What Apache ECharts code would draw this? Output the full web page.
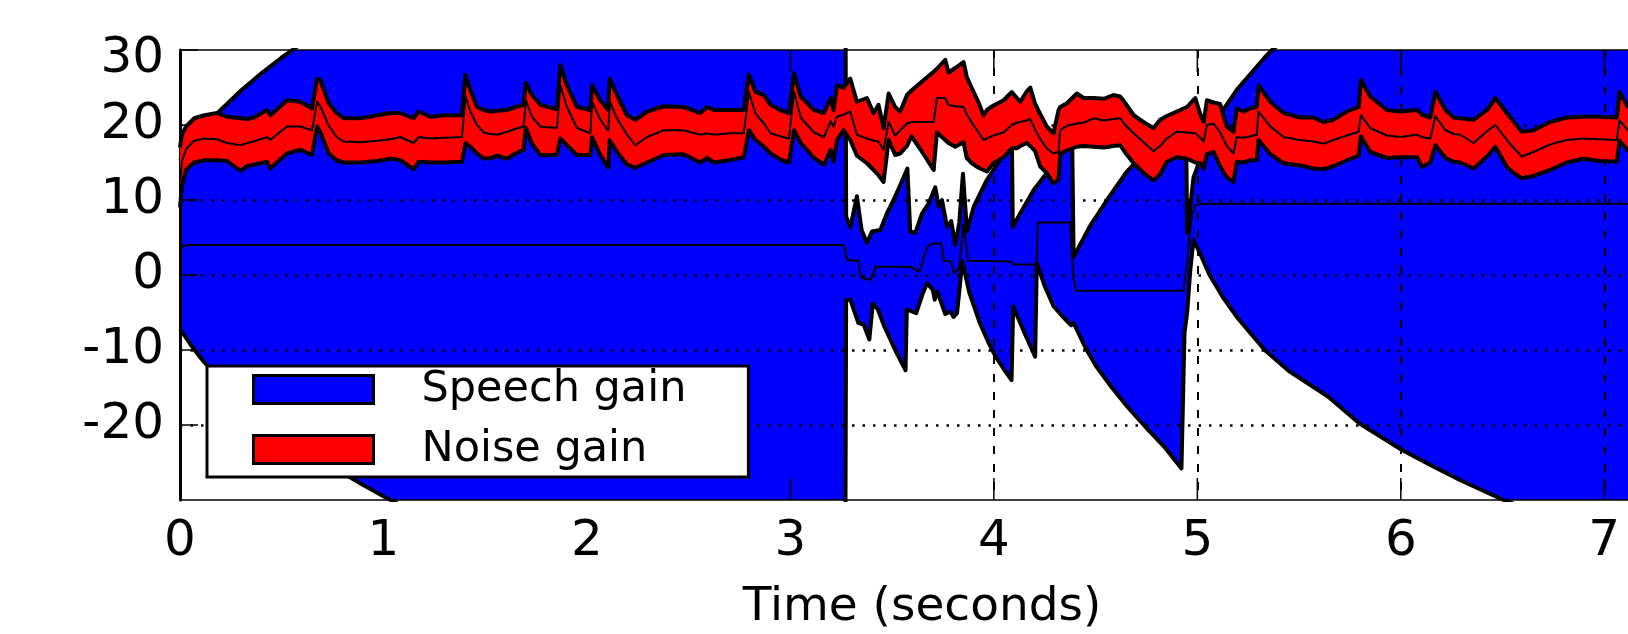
<!DOCTYPE html>
<html>
<head>
<meta charset="utf-8">
<script src="https://cdn.jsdelivr.net/npm/echarts@6/dist/echarts.min.js"></script>
<style>
  html, body { margin: 0; padding: 0; background: #fff; }
  #chart { width: 1628px; height: 634px; }
</style>
</head>
<body>
<div id="chart"></div>
<script>
// speech gain band: [time, dB]
const speechUpper = [
  [0,15.2],[0.05,17.2],[0.1,19.0],[0.15,20.6],[0.2,22.0],[0.3,24.6],[0.4,26.9],[0.5,29.0],[0.6,30.9],[0.7,32.7],
  [0.8,34.4],[0.9,36.0],[1.0,37.5],[1.2,40.3],[1.5,44.0],[2.0,49.0],[2.5,54.0],[3.0,58.0],[3.268,61.0],
  [3.274,7.8],[3.295,6.4],[3.327,10.5],[3.350,6.0],[3.376,4.3],[3.401,5.8],[3.442,6.0],[3.474,8.2],[3.507,10.0],
  [3.540,12.0],[3.575,14.2],[3.589,5.8],[3.614,5.6],[3.647,8.2],[3.680,9.6],[3.712,11.7],[3.729,9.1],[3.745,10.0],
  [3.770,6.4],[3.790,7.2],[3.811,4.0],[3.830,7.0],[3.848,13.5],[3.868,5.8],[3.901,9.1],[3.966,12.7],[4.032,15.4],
  [4.070,16.8],[4.089,17.0],[4.093,6.4],[4.129,8.2],[4.195,11.3],[4.260,13.6],[4.326,15.9],[4.385,17.8],[4.392,2.4],
  [4.474,6.6],[4.556,10.0],[4.654,13.8],[4.750,16.6],[4.850,19.0],[4.944,21.0],[4.950,5.6],[4.965,9.0],[4.981,13.0],
  [4.995,14.0],[5.030,17.0],[5.080,20.0],[5.124,21.9],[5.200,24.9],[5.331,29.0],[5.374,30.2],[5.500,32.5],[5.642,35.2],
  [5.797,38.8],[6.004,42.3],[6.288,46.3],[6.496,48.9],[7.000,54.0],[7.600,59.0]
];
const speechLower = [
  [0,-7.2],[0.05,-9.2],[0.1,-11.0],[0.15,-12.6],[0.2,-14.0],[0.3,-16.6],[0.4,-18.9],[0.5,-21.0],[0.6,-22.9],[0.7,-24.7],
  [0.8,-26.4],[0.9,-28.0],[1.0,-29.5],[1.2,-32.3],[1.5,-36.0],[2.0,-41.0],[2.5,-46.0],[3.0,-50.0],[3.268,-53.0],
  [3.274,-3.3],[3.295,-3.3],[3.334,-6.4],[3.360,-6.6],[3.388,-8.6],[3.405,-3.8],[3.430,-4.6],[3.462,-6.9],[3.515,-10.0],
  [3.566,-12.7],[3.572,-4.6],[3.618,-5.1],[3.650,-2.5],[3.672,-1.1],[3.700,-2.0],[3.709,-3.3],[3.722,-2.2],[3.761,-5.2],
  [3.787,-4.9],[3.802,-5.6],[3.819,-5.1],[3.845,1.8],[3.879,-2.3],[3.931,-6.4],[3.970,-8.8],[4.009,-10.9],[4.050,-12.6],
  [4.087,-14.0],[4.095,-4.2],[4.150,-7.7],[4.203,-10.9],[4.211,1.6],[4.250,-1.5],[4.294,-4.2],[4.340,-5.6],[4.380,-6.7],
  [4.392,-6.4],[4.450,-9.7],[4.501,-12.1],[4.580,-15.0],[4.657,-17.6],[4.750,-20.4],[4.838,-22.9],[4.922,-25.8],
  [4.937,-7.7],[4.950,-5.0],[4.965,0.5],[4.981,4.7],[5.021,2.4],[5.060,0.0],[5.124,-2.9],[5.200,-5.8],[5.331,-10.0],
  [5.450,-12.8],[5.642,-16.2],[5.797,-19.8],[6.004,-23.3],[6.150,-25.4],[6.288,-27.3],[6.496,-29.9],[7.000,-35.0],[7.600,-40.0]
];
const speechMid = [
  [0,3.3],[0.02,3.9],[0.05,4.0],[3.262,4.0],[3.280,2.0],[3.336,1.9],[3.345,-0.3],[3.352,-0.5],[3.393,-0.7],[3.420,1.1],
  [3.589,1.1],[3.610,0.8],[3.635,0.4],[3.660,2.8],[3.675,3.8],[3.696,4.2],[3.742,4.2],[3.754,1.9],[3.790,1.8],[3.805,0.2],
  [3.830,1.0],[3.850,6.7],[3.874,1.9],[4.080,1.8],[4.097,1.4],[4.210,1.4],[4.216,7.0],[4.375,7.0],[4.390,-0.3],[4.405,-2.1],
  [4.932,-2.1],[4.949,1.7],[4.973,8.0],[4.990,9.3],[5.015,9.5],[7.600,9.5]
];

// noise gain band, shared time axis
const noiseTime = [
  0.000,0.010,0.030,0.070,0.120,0.182,0.231,0.297,0.330,0.362,
  0.428,0.444,0.526,0.592,0.649,0.674,0.690,0.731,0.770,0.805,
  0.887,0.969,1.034,1.083,1.148,1.173,1.230,1.300,1.386,1.403,
  1.427,1.460,1.493,1.526,1.560,1.607,1.650,1.689,1.700,1.730,
  1.771,1.853,1.869,1.902,1.951,2.017,2.025,2.066,2.105,2.112,
  2.148,2.197,2.238,2.296,2.378,2.476,2.558,2.591,2.624,2.700,
  2.771,2.796,2.829,2.870,2.903,2.950,2.993,3.018,3.051,3.116,
  3.165,3.198,3.212,3.229,3.262,3.294,3.327,3.376,3.409,3.433,
  3.458,3.483,3.515,3.540,3.573,3.595,3.638,3.704,3.712,3.720,
  3.761,3.777,3.810,3.851,3.867,3.892,3.925,3.949,3.966,3.998,
  4.048,4.088,4.113,4.130,4.162,4.179,4.203,4.227,4.260,4.293,
  4.318,4.326,4.359,4.408,4.441,4.490,4.540,4.588,4.621,4.646,
  4.687,4.740,4.785,4.817,4.850,4.899,4.949,4.990,5.015,5.031,
  5.047,5.080,5.112,5.145,5.178,5.194,5.227,5.260,5.292,5.301,
  5.359,5.424,5.506,5.571,5.620,5.669,5.735,5.793,5.804,5.850,
  5.932,5.998,6.080,6.104,6.145,6.170,6.220,6.260,6.293,6.358,
  6.424,6.465,6.521,6.560,6.595,6.652,6.734,6.816,6.898,6.980,
  7.062,7.075,7.117,7.200,7.600
];
const noiseUpper = [
  17.0,18.8,19.8,20.9,21.3,21.6,21.1,20.9,20.8,21.0,
  22.0,21.3,23.3,23.1,22.2,26.2,26.0,22.9,21.6,20.9,
  20.9,21.3,21.6,21.6,20.9,21.8,21.1,21.3,21.3,26.7,
  24.7,22.4,22.0,21.8,21.9,22.0,22.4,22.7,25.6,24.0,
  22.7,22.1,28.0,25.3,22.4,22.0,25.3,23.3,22.0,26.2,
  24.0,21.3,20.7,21.8,22.5,22.4,21.6,22.4,22.0,22.0,
  22.0,26.7,24.4,24.0,22.7,22.0,21.6,26.9,23.8,22.0,
  21.6,23.6,22.0,25.3,25.0,26.2,23.1,23.6,21.6,22.7,
  19.6,24.2,22.4,21.8,24.0,24.6,25.6,27.1,27.3,27.5,
  28.7,27.0,27.6,28.4,26.4,24.9,23.0,21.3,22.0,22.6,
  23.3,24.4,23.6,23.1,24.5,25.0,22.8,21.5,19.8,18.9,
  22.0,22.4,22.9,24.2,23.6,23.6,23.5,24.0,23.8,22.9,
  21.3,20.3,19.6,20.7,21.2,21.8,22.4,23.6,21.4,20.4,
  23.3,23.0,22.8,19.8,19.1,22.2,21.8,22.2,22.4,25.3,
  23.1,21.6,21.0,21.0,20.4,20.7,21.8,22.4,26.0,23.8,
  22.0,21.8,22.0,21.4,21.0,24.4,22.0,21.0,20.9,20.7,
  22.0,23.6,21.6,20.3,19.1,19.3,20.4,21.0,21.1,21.1,
  21.0,24.4,22.4,21.2,21.0
];
const noiseMid = [
  12.5,15.2,16.8,17.9,18.2,18.1,17.6,17.3,17.6,17.8,
  18.4,18.0,19.8,19.8,19.3,23.1,22.5,19.9,18.4,17.8,
  17.7,17.9,18.1,18.4,17.6,18.4,18.2,18.3,18.4,23.8,
  21.8,20.0,19.0,18.8,18.7,19.1,19.5,19.8,23.3,21.1,
  19.8,19.6,25.3,22.4,19.6,18.9,23.1,20.7,19.2,23.1,
  20.9,18.7,17.3,18.4,19.3,19.3,18.7,18.9,18.7,18.9,
  18.9,24.4,21.5,20.2,18.9,18.5,18.2,24.4,21.0,19.0,
  18.4,20.5,19.8,21.1,21.4,21.8,18.7,18.2,17.9,17.8,
  16.7,20.4,18.6,19.3,20.2,20.4,20.4,20.4,20.4,23.6,
  23.6,22.7,22.5,22.4,21.4,20.3,19.0,18.0,18.2,18.6,
  19.0,20.0,20.3,20.4,20.6,20.8,19.4,18.2,16.9,16.2,
  16.4,19.3,19.9,20.2,20.3,20.9,20.6,20.8,20.9,20.0,
  18.9,17.6,16.5,17.2,18.2,19.1,19.0,18.9,18.3,17.8,
  20.0,20.2,19.0,17.2,16.2,18.4,18.3,18.5,18.7,21.8,
  19.8,18.4,18.0,17.8,17.5,18.0,18.6,19.1,21.3,19.6,
  18.6,18.4,18.7,18.4,18.2,21.2,19.3,18.8,18.7,17.6,
  19.2,20.0,18.0,16.8,15.8,16.4,17.4,18.0,18.2,18.1,
  18.0,20.6,19.3,18.2,18.0
];
const noiseLower = [
  9.0,12.0,14.0,15.0,15.3,15.3,15.2,13.9,14.5,14.7,
  15.1,14.2,16.2,16.7,16.0,19.8,19.0,16.2,15.3,15.0,
  15.0,15.2,15.5,15.3,14.1,15.1,15.0,15.0,15.1,17.6,
  17.1,16.2,15.5,15.6,15.9,15.5,16.2,16.7,19.6,17.5,
  16.0,16.0,18.2,17.3,16.0,16.0,18.4,16.0,14.3,18.0,
  16.4,14.7,14.3,15.0,16.0,16.1,15.0,15.6,15.0,15.3,
  15.7,19.3,18.0,17.1,16.2,15.4,15.0,19.3,17.6,15.6,
  14.7,16.7,15.1,18.0,19.3,18.0,15.9,14.9,14.0,13.3,
  12.4,18.0,16.0,16.2,17.2,18.5,16.8,14.0,13.8,19.0,
  18.0,17.6,17.1,17.7,15.6,14.9,14.3,14.0,13.8,14.9,
  15.7,16.9,16.9,17.2,17.6,17.2,16.5,14.5,13.6,12.2,
  12.7,16.2,16.6,17.1,17.2,17.1,17.0,17.2,17.3,16.3,
  14.9,13.5,12.6,13.4,15.1,15.7,15.5,15.0,14.9,14.2,
  16.1,16.4,14.5,13.0,12.4,15.1,15.0,15.3,15.3,18.0,
  16.1,14.9,14.6,14.2,14.1,14.5,15.3,15.9,18.5,16.4,
  15.6,15.7,15.7,14.4,15.0,17.3,15.6,15.1,15.0,14.2,
  15.8,17.1,14.4,13.5,12.9,13.2,14.0,15.0,15.5,15.2,
  15.1,17.9,16.6,15.3,15.0
];

const yTicks = [-30, 30, 10]       // min, max, step
const xTicks = [0, 7.5, 1]
// only these x tics show through the fill
const visibleXTicks = [3, 4, 5, 6, 7]
// vertical grid only shows from t = 4 on
const clear = 'rgba(0,0,0,0)'
const vGridColors = [clear, clear, clear, clear, '#000', '#000', '#000', '#000', clear]

const FONT = 'DejaVu Sans'
const TICK_LEN = 22

function pairs(times, values) {
  return times.map((t, i) => [t, values[i]])
}

function band(name, upper, lower, color, z) {
  return {
    name: name,
    type: 'custom',
    z: z,
    silent: true,
    itemStyle: { color: color },
    data: [[0, 0]],
    renderItem(params, api) {
      const top = upper.map(p => api.coord(p))
      const bottom = lower.slice().reverse().map(p => api.coord(p))
      const cs = params.coordSys
      return {
        type: 'polygon',
        shape: { points: top.concat(bottom) },
        style: { fill: color },
        clipPath: { type: 'rect', shape: { x: cs.x, y: cs.y, width: cs.width, height: cs.height } }
      }
    }
  }
}

function edge(data, width, z) {
  return {
    type: 'line',
    data: data,
    z: z,
    silent: true,
    symbol: 'none',
    showSymbol: false,
    lineStyle: { color: '#000', width: width, join: 'round' }
  }
}

// inward tics on the bottom and top border
const tickMarks = {
  type: 'custom',
  z: 3,
  silent: true,
  data: visibleXTicks.map(t => [t, 0]),
  renderItem(params, api) {
    const t = api.value(0)
    const lo = api.coord([t, yTicks[0]])
    const hi = api.coord([t, yTicks[1]])
    const style = { stroke: '#000', lineWidth: 1.5 }
    return {
      type: 'group',
      children: [
        { type: 'line', shape: { x1: lo[0], y1: lo[1], x2: lo[0], y2: lo[1] - TICK_LEN }, style: style },
        { type: 'line', shape: { x1: hi[0], y1: hi[1], x2: hi[0], y2: hi[1] + TICK_LEN }, style: style }
      ]
    }
  }
}

const chart = echarts.init(document.getElementById('chart'))

const noiseUp = pairs(noiseTime, noiseUpper)
const noiseLo = pairs(noiseTime, noiseLower)

chart.setOption({
  animation: false,
  grid: { left: 180, top: 50, width: 1526, height: 450, outerBoundsMode: 'none' },
  legend: {
    orient: 'vertical',
    left: 207,
    top: 366,
    z: 10,
    selectedMode: false,
    backgroundColor: '#fff',
    borderColor: '#000',
    borderWidth: 3,
    borderRadius: 0,
    padding: [2, 62, 6, 45],
    itemWidth: 120,
    itemHeight: 28,
    itemGap: 17,
    icon: 'rect',
    itemStyle: { borderColor: '#000', borderWidth: 3 },
    textStyle: { fontSize: 43, fontFamily: FONT, color: '#000', padding: [0, 0, 0, 43] },
    data: [
      { name: 'Speech gain', itemStyle: { color: '#0000ff' } },
      { name: 'Noise gain', itemStyle: { color: '#ff0000' } }
    ]
  },
  xAxis: [{
    type: 'value',
    min: xTicks[0], max: xTicks[1], interval: xTicks[2],
    position: 'bottom',
    z: 3,
    axisLine: { onZero: false, lineStyle: { color: '#000', width: 1.5 } },
    axisTick: { show: false },
    axisLabel: {
      margin: 17, fontSize: 50, fontFamily: FONT, color: '#000',
      formatter: v => (Number.isInteger(v) ? String(v) : '')
    },
    splitLine: { show: true, lineStyle: { color: vGridColors, width: 2, type: [8, 10] } }
  }, {
    type: 'value',
    min: xTicks[0], max: xTicks[1], interval: xTicks[2],
    position: 'top',
    z: 3,
    axisLine: { onZero: false, lineStyle: { color: '#000', width: 1.5 } },
    axisTick: { show: false },
    axisLabel: { show: false },
    splitLine: { show: false }
  }],
  yAxis: {
    type: 'value',
    min: yTicks[0], max: yTicks[1], interval: yTicks[2],
    z: 3,
    axisLine: { show: true, onZero: false, lineStyle: { color: '#000', width: 3 } },
    axisTick: { show: true, inside: true, length: 18, lineStyle: { color: '#000', width: 1.5 } },
    axisLabel: {
      margin: 16, fontSize: 50, fontFamily: FONT, color: '#000', showMinLabel: false,
      // the top label sits a little below its tick, as in the original
      formatter: v => (v === yTicks[1] ? '{top|' + v + '}' : String(v)),
      rich: { top: { fontSize: 50, fontFamily: FONT, color: '#000', padding: [18, 0, 0, 0] } }
    },
    splitLine: {
      show: true, showMinLine: false, showMaxLine: false,
      lineStyle: { color: '#000', width: 2.5, type: [2.5, 8] }
    }
  },
  graphic: [{
    type: 'text',
    x: 922,
    y: 608,
    style: {
      text: 'Time (seconds)',
      font: '47px "DejaVu Sans"',
      fill: '#000',
      align: 'center',
      verticalAlign: 'middle'
    }
  }],
  series: [
    band('Speech gain', speechUpper, speechLower, '#0000ff', 1),
    edge(speechUpper, 4, 2),
    edge(speechLower, 4, 2),
    edge(speechMid, 2, 2),
    tickMarks,
    band('Noise gain', noiseUp, noiseLo, '#ff0000', 5),
    edge(noiseUp, 4, 6),
    edge(noiseLo, 4, 6),
    edge(pairs(noiseTime, noiseMid), 2, 6)
  ]
})
</script>
</body>
</html>
